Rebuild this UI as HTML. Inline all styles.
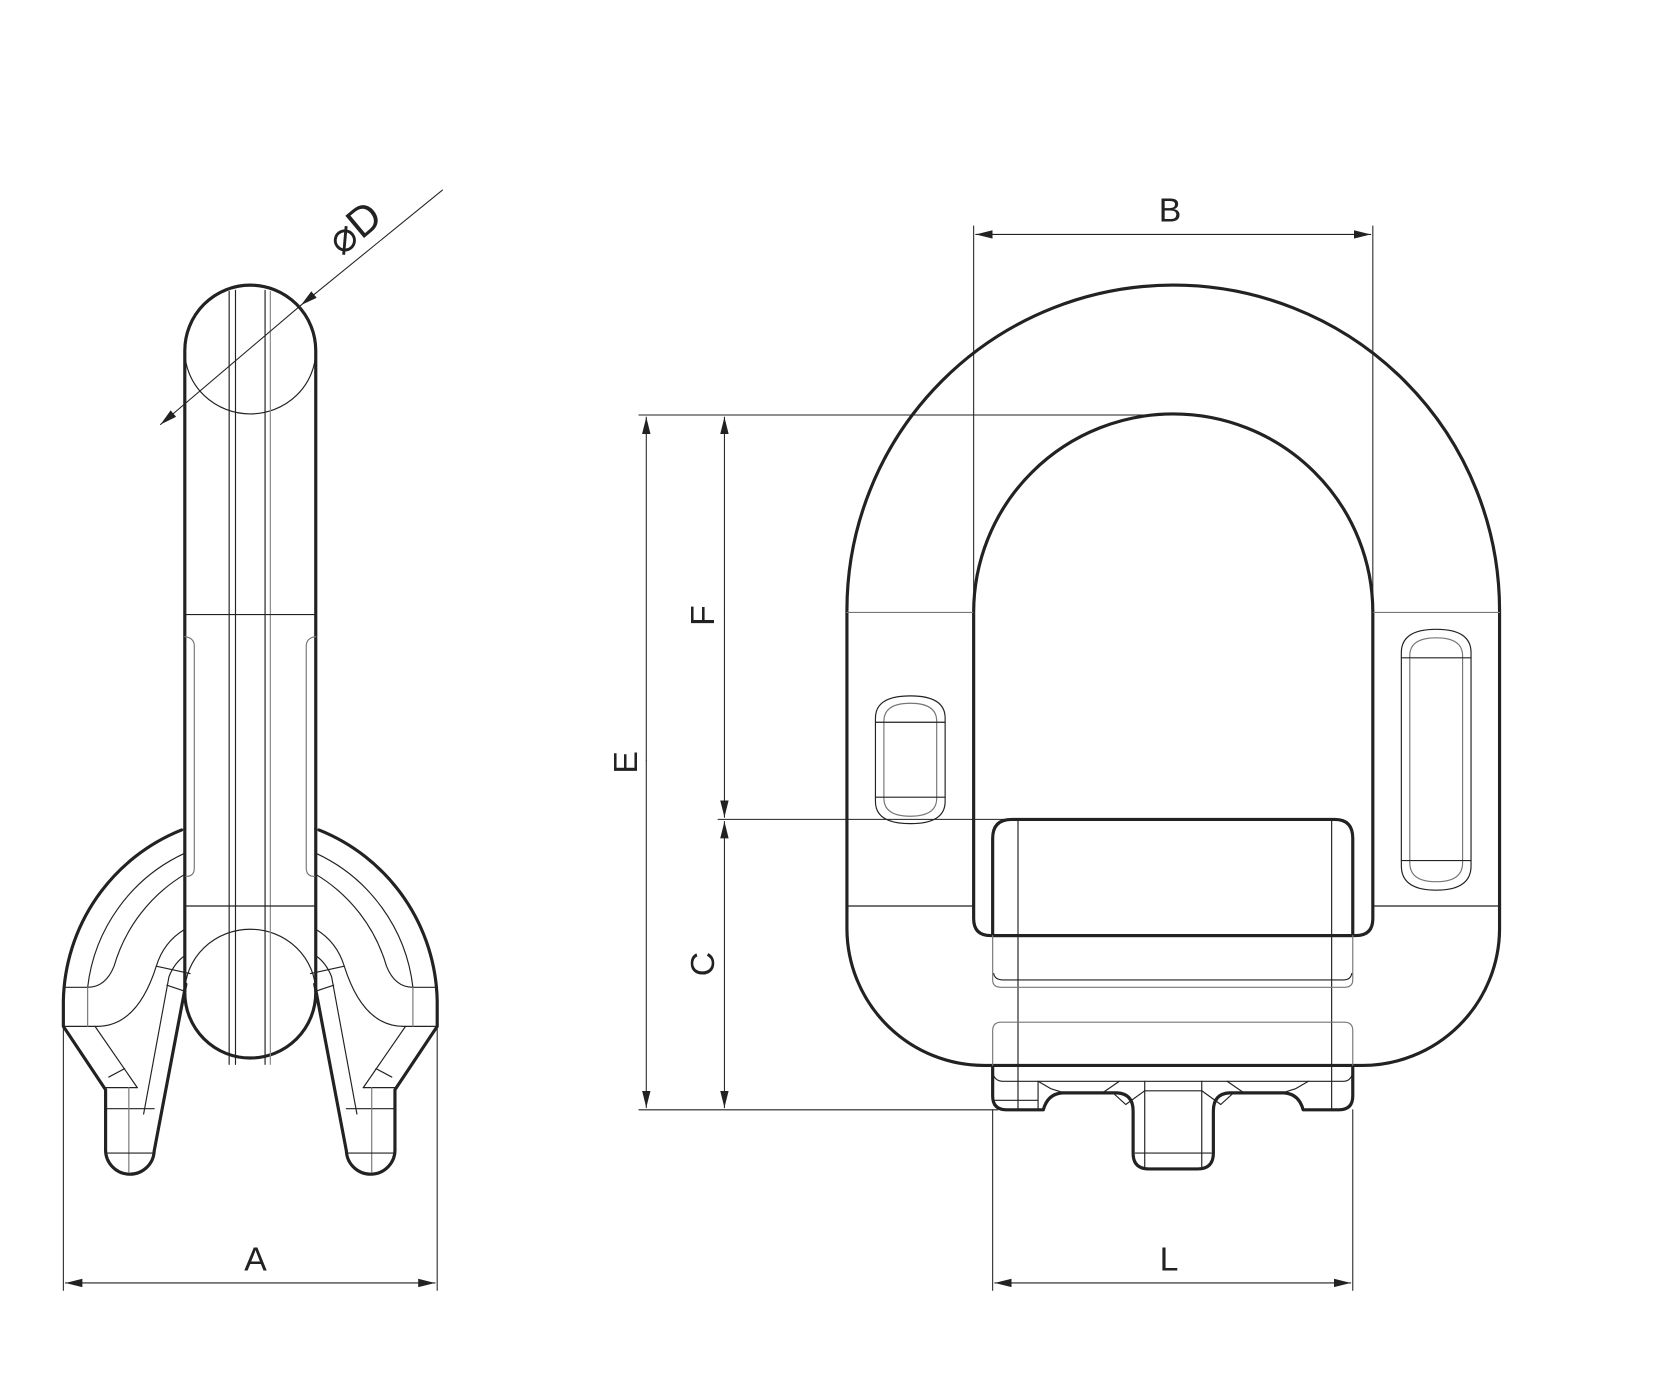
<!DOCTYPE html>
<html><head><style>
html,body{margin:0;padding:0;background:#fff;}
svg{display:block;}
text{font-family:"Liberation Sans","DejaVu Sans",sans-serif;font-size:32px;fill:#222;}
</style></head><body>
<svg width="1655" height="1397" viewBox="0 0 1567.2 1323" preserveAspectRatio="none" xmlns="http://www.w3.org/2000/svg">
<defs>
<marker id="ar" markerWidth="16" markerHeight="8" refX="16" refY="4" orient="auto" markerUnits="userSpaceOnUse">
<path d="M0,0 L16,4 L0,8 Z" fill="#222"/></marker>
</defs>
<g fill="none" stroke="#222" stroke-linejoin="round" stroke-linecap="round">
<g stroke-width="3">
<path d="M175,785 L175,332 A62,62 0 0 1 299,332 L299,785"/>
<path d="M175,785 L175,940 A62,62 0 0 0 299,940 L299,785"/>
<path d="M172,786 A178,178 0 0 0 60,948 L60,972 L100,1032 L100,1088 A22,22 0 0 0 146,1090 L176,932"/>
<path d="M302,786 A178,178 0 0 1 414,948 L414,972 L374,1032 L374,1088 A22,22 0 0 1 328,1090 L298,932"/>
</g>
<g stroke-width="1.1">
<path d="M175,332 A62,60 0 0 0 299,332"/>
<path d="M175,940 A62,60 0 0 1 299,940"/>
<line x1="217" y1="276" x2="217" y2="1008"/><line x1="223" y1="275" x2="223" y2="1008"/>
<line x1="251" y1="275" x2="251" y2="1008"/><line x1="256" y1="276" x2="256" y2="1008" stroke="#888"/>
<line x1="175" y1="582" x2="299" y2="582"/><line x1="175" y1="858" x2="299" y2="858"/>
<path d="M175,603 Q184,604 184,612 L184,822 Q184,830 176,830" stroke="#777"/>
<path d="M299,603 Q290,604 290,612 L290,822 Q290,830 298,830" stroke="#777"/>
<path d="M175,808 A160,160 0 0 0 83,935 L60,935"/>
<path d="M175,828 A150,150 0 0 0 108,915 Q100,935 83,935"/>
<path d="M175,880 Q155,892 148,915 L180,922"/>
<path d="M175,905 Q165,912 160,925 L136,1055"/>
<line x1="158" y1="933" x2="176" y2="939"/>
<path d="M60,972 L92,972 Q130,972 148,915"/>
<line x1="83" y1="935" x2="83" y2="972" stroke="#777"/>
<line x1="90" y1="972" x2="130" y2="1030"/><line x1="100" y1="1030" x2="130" y2="1030"/>
<line x1="103" y1="1020" x2="118" y2="1012"/>
<line x1="100" y1="1050" x2="146" y2="1050"/>
<line x1="122" y1="1030" x2="122" y2="1110" stroke="#777"/>
<line x1="102" y1="1092" x2="145" y2="1092"/>
<path d="M299,808 A160,160 0 0 1 391,935 L414,935"/>
<path d="M299,828 A150,150 0 0 1 366,915 Q374,935 391,935"/>
<path d="M299,880 Q319,892 326,915 L294,922"/>
<path d="M299,905 Q309,912 314,925 L338,1055"/>
<line x1="316" y1="933" x2="298" y2="939"/>
<path d="M414,972 L382,972 Q344,972 326,915"/>
<line x1="391" y1="935" x2="391" y2="972" stroke="#777"/>
<line x1="384" y1="972" x2="344" y2="1030"/><line x1="374" y1="1030" x2="344" y2="1030"/>
<line x1="371" y1="1020" x2="356" y2="1012"/>
<line x1="374" y1="1050" x2="328" y2="1050"/>
<line x1="352" y1="1030" x2="352" y2="1110" stroke="#777"/>
<line x1="372" y1="1092" x2="329" y2="1092"/>
</g>
<g stroke-width="1">
<line x1="60" y1="972" x2="60" y2="1222"/><line x1="414" y1="972" x2="414" y2="1222"/>
<line x1="240" y1="1215" x2="62" y2="1215" marker-end="url(#ar)"/>
<line x1="240" y1="1215" x2="412" y2="1215" marker-end="url(#ar)"/>
<line x1="419" y1="180" x2="285" y2="289" marker-end="url(#ar)"/>
<line x1="285" y1="289" x2="152" y2="402" marker-end="url(#ar)"/>
</g>

<g stroke-width="3">
<path d="M802,578 A309,308 0 0 1 1420,578 L1420,880 A130,130 0 0 1 1290,1009 L932,1009 A130,130 0 0 1 802,880 Z"/>
<path d="M922,580 A189,188 0 0 1 1300,580 L1300,870 Q1300,886 1284,886 L938,886 Q922,886 922,870 Z"/>
<path d="M958,776 L1264,776 Q1281,776 1281,794 L1281,886 L940,886 L940,794 Q940,776 958,776 Z"/>
<path d="M940,1009 L940,1038 Q940,1051 953,1051 L988,1051 Q992,1036 1006,1035 L1058,1035 Q1073,1036 1073,1052 L1073,1092 Q1073,1107 1088,1107 L1134,1107 Q1149,1107 1149,1092 L1149,1052 Q1149,1036 1164,1035 L1216,1035 Q1230,1036 1234,1051 L1268,1051 Q1281,1051 1281,1038 L1281,1009"/>
</g>
<g stroke-width="1.1">
<line x1="802" y1="580" x2="922" y2="580" stroke="#777"/><line x1="1300" y1="580" x2="1420" y2="580" stroke="#777"/>
<line x1="802" y1="858" x2="922" y2="858"/><line x1="1300" y1="858" x2="1420" y2="858"/>
<line x1="964" y1="776" x2="964" y2="1051"/><line x1="1261" y1="776" x2="1261" y2="1051"/>
<path d="M940,886 L940,928 Q940,935 948,935 L1273,935 Q1281,935 1281,928 L1281,886" stroke="#777"/>
<path d="M941,922 Q942,928 950,928 L1272,928 Q1279,928 1280,922"/>
<path d="M940,1009 L940,976 Q940,968 948,968 L1273,968 Q1281,968 1281,976 L1281,1009" stroke="#777"/>
<path d="M940,1016 Q942,1024 950,1024 L1272,1024 Q1279,1024 1281,1016"/>
<line x1="940" y1="1042" x2="983" y2="1042"/><line x1="983" y1="1024" x2="983" y2="1051"/>
<path d="M983,1024 L995,1031 L1008,1035 M1060,1024 L1044,1035 M1054,1035 L1066,1046 L1084,1033 L1084,1107 M1084,1033 L1138,1033 L1138,1107 M1138,1033 L1156,1046 L1168,1035 M1162,1024 L1178,1035 M1239,1024 L1227,1031 L1214,1035"/>
<line x1="1084" y1="1024" x2="1084" y2="1033"/><line x1="1138" y1="1024" x2="1138" y2="1033"/>
<line x1="1075" y1="1092" x2="1147" y2="1092"/>
<path d="M829,680 Q829,659 862,659 Q895,659 895,680 L895,759 Q895,780 862,780 Q829,780 829,759 Z"/>
<path d="M837,683 Q837,666 862,666 Q887,666 887,683 L887,756 Q887,773 862,773 Q837,773 837,756 Z" stroke="#777"/>
<line x1="829" y1="684" x2="895" y2="684"/><line x1="829" y1="755" x2="895" y2="755"/>
<path d="M1327,618 Q1327,596 1360,596 Q1393,596 1393,618 L1393,820 Q1393,843 1360,843 Q1327,843 1327,820 Z"/>
<path d="M1335,621 Q1335,604 1360,604 Q1385,604 1385,621 L1385,817 Q1385,835 1360,835 Q1335,835 1335,817 Z" stroke="#777"/>
<line x1="1327" y1="623" x2="1393" y2="623"/><line x1="1327" y1="815" x2="1393" y2="815"/>
</g>
<g stroke-width="1">
<line x1="922" y1="214" x2="922" y2="580"/><line x1="1300" y1="214" x2="1300" y2="580"/>
<line x1="1110" y1="222" x2="924" y2="222" marker-end="url(#ar)"/>
<line x1="1110" y1="222" x2="1298" y2="222" marker-end="url(#ar)"/>
<line x1="605" y1="393" x2="1111" y2="393"/>
<line x1="680" y1="776" x2="958" y2="776"/>
<line x1="605" y1="1051" x2="945" y2="1051"/>
<line x1="612" y1="720" x2="612" y2="395" marker-end="url(#ar)"/>
<line x1="612" y1="720" x2="612" y2="1049" marker-end="url(#ar)"/>
<line x1="686" y1="580" x2="686" y2="395" marker-end="url(#ar)"/>
<line x1="686" y1="580" x2="686" y2="774" marker-end="url(#ar)"/>
<line x1="686" y1="910" x2="686" y2="778" marker-end="url(#ar)"/>
<line x1="686" y1="910" x2="686" y2="1049" marker-end="url(#ar)"/>
<line x1="940" y1="1051" x2="940" y2="1222"/><line x1="1281" y1="1051" x2="1281" y2="1222"/>
<line x1="1110" y1="1215" x2="942" y2="1215" marker-end="url(#ar)"/>
<line x1="1110" y1="1215" x2="1279" y2="1215" marker-end="url(#ar)"/>
</g>
</g>
<text x="242" y="1203" text-anchor="middle">A</text>
<text x="1108" y="210" text-anchor="middle">B</text>
<text x="1107" y="1203" text-anchor="middle">L</text>
<text transform="translate(603,722) rotate(-90)" text-anchor="middle">E</text>
<text transform="translate(676,583) rotate(-90)" text-anchor="middle">F</text>
<text transform="translate(676,913) rotate(-90)" text-anchor="middle">C</text>
<text transform="translate(344,226) rotate(-40)" text-anchor="middle" style="font-size:40px">⌀D</text>
</svg>
</body></html>
